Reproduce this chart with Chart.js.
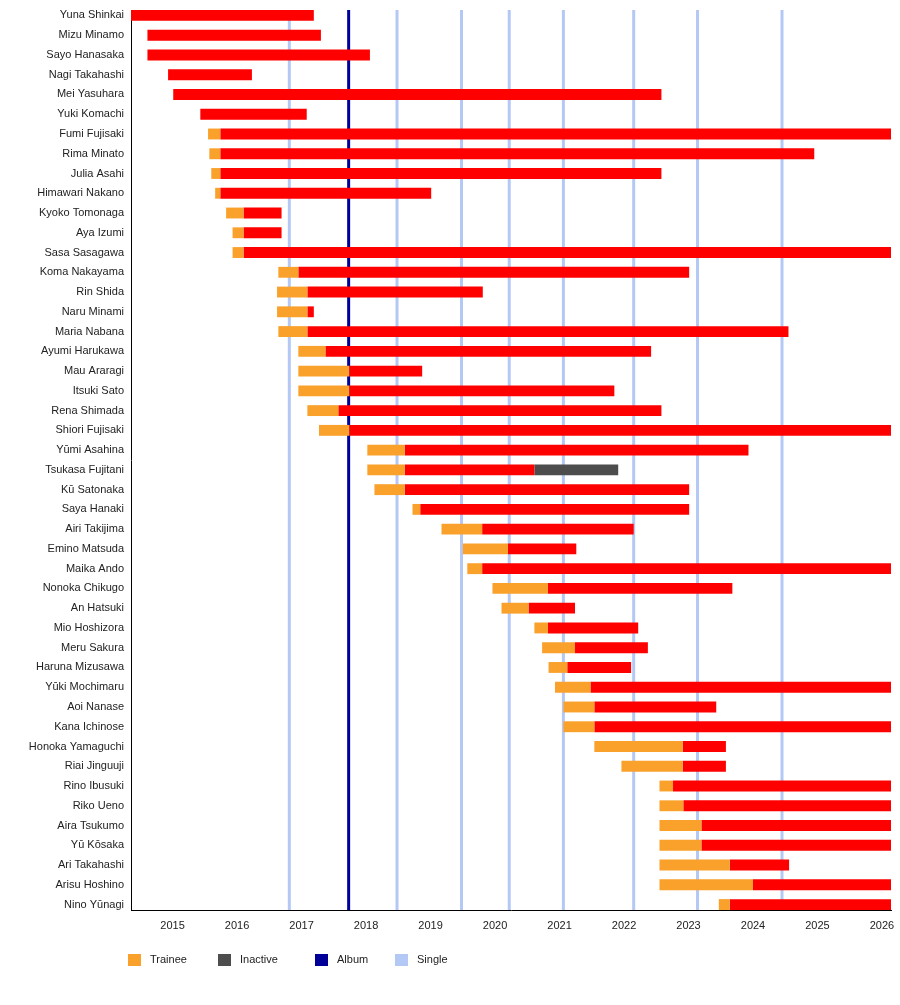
<!DOCTYPE html>
<html><head><meta charset="utf-8">
<script src="https://cdn.jsdelivr.net/npm/chart.js@4.4.1/dist/chart.umd.min.js"></script>
<style>html,body{margin:0;padding:0;background:#fff}#wrap{width:900px;height:1005px;position:relative}</style>
</head><body><div id="wrap"><canvas id="c"></canvas></div>
<script>
const PRESENT = 2026.14;
const P = PRESENT;
const names = ["Yuna Shinkai","Mizu Minamo","Sayo Hanasaka","Nagi Takahashi","Mei Yasuhara","Yuki Komachi","Fumi Fujisaki","Rima Minato","Julia Asahi","Himawari Nakano","Kyoko Tomonaga","Aya Izumi","Sasa Sasagawa","Koma Nakayama","Rin Shida","Naru Minami","Maria Nabana","Ayumi Harukawa","Mau Araragi","Itsuki Sato","Rena Shimada","Shiori Fujisaki","Yūmi Asahina","Tsukasa Fujitani","Kū Satonaka","Saya Hanaki","Airi Takijima","Emino Matsuda","Maika Ando","Nonoka Chikugo","An Hatsuki","Mio Hoshizora","Meru Sakura","Haruna Mizusawa","Yūki Mochimaru","Aoi Nanase","Kana Ichinose","Honoka Yamaguchi","Riai Jinguuji","Rino Ibusuki","Riko Ueno","Aira Tsukumo","Yū Kōsaka","Ari Takahashi","Arisu Hoshino","Nino Yūnagi"];
const traineeStart = [null,null,null,null,null,null,2015.55,2015.57,2015.60,2015.66,2015.83,2015.93,2015.93,2016.64,2016.62,2016.62,2016.64,2016.95,2016.95,2016.95,2017.09,2017.27,2018.02,2018.02,2018.13,2018.72,2019.17,2019.50,2019.57,2019.96,2020.10,2020.61,2020.73,2020.83,2020.93,2021.06,2021.06,2021.54,2021.96,2022.55,2022.55,2022.55,2022.55,2022.55,2022.55,2023.47];
const debut = [2014.3,2014.61,2014.61,2014.93,2015.01,2015.43,2015.74,2015.74,2015.74,2015.74,2016.10,2016.10,2016.10,2016.95,2017.09,2017.09,2017.09,2017.37,2017.74,2017.74,2017.57,2017.74,2018.60,2018.60,2018.60,2018.84,2019.80,2020.20,2019.80,2020.82,2020.52,2020.82,2021.24,2021.12,2021.48,2021.54,2021.54,2022.91,2022.91,2022.76,2022.92,2023.20,2023.20,2023.64,2024.00,2023.64];
const leave = [2017.19,2017.30,2018.06,2016.23,2022.58,2017.08,P,2024.95,2022.58,2019.01,2016.69,2016.69,P,2023.01,2019.81,2017.19,2024.55,2022.42,2018.87,2021.85,2022.58,P,2023.93,2020.61,2023.01,2023.01,2022.15,2021.26,P,2023.68,2021.24,2022.22,2022.37,2022.11,P,2023.43,P,2023.58,2023.58,P,P,P,P,2024.56,P,P];
const inactiveEnd = names.map((n) => n === "Tsukasa Fujitani" ? 2021.91 : null);
const singleDates = [2016.81,2018.48,2019.48,2020.22,2021.06,2022.15,2023.14,2024.45];
const albumDates = [2017.73];
const yearTicks = [2015,2016,2017,2018,2019,2020,2021,2022,2023,2024,2025,2026];
const legendLabels = ["Trainee","Inactive","Album","Single"];

const COLORS = {trainee:'#F9A12B', active:'#FF0000', inactive:'#4D4D4D', album:'#000099', single:'#B4C8F5'};

const traineeData = names.map((n,i)=> traineeStart[i]!=null ? {x:[traineeStart[i], debut[i]], y:i} : null).filter(Boolean);
const activeData = names.map((n,i)=> ({x:[debut[i], leave[i]], y:i}));
const inactiveData = names.map((n,i)=> inactiveEnd[i]!=null ? {x:[leave[i], inactiveEnd[i]], y:i} : null).filter(Boolean);

const linesPlugin = {
  id:'releaseLines',
  beforeDatasetsDraw(chart){
    const {ctx, chartArea:a, scales:{x}} = chart;
    ctx.save();
    ctx.lineWidth = 3;
    ctx.strokeStyle = COLORS.single;
    singleDates.forEach(d=>{const px=x.getPixelForValue(d);ctx.beginPath();ctx.moveTo(px,a.top);ctx.lineTo(px,a.bottom);ctx.stroke();});
    ctx.strokeStyle = COLORS.album;
    albumDates.forEach(d=>{const px=x.getPixelForValue(d);ctx.beginPath();ctx.moveTo(px,a.top);ctx.lineTo(px,a.bottom);ctx.stroke();});
    ctx.restore();
  }
};

const legendPlugin = {
  id:'customLegend',
  afterDraw(chart){
    const ctx = chart.ctx;
    const cols = [COLORS.trainee, COLORS.inactive, COLORS.album, COLORS.single];
    const xs = [128, 218, 315, 395];
    const y = 960;
    ctx.save();
    ctx.font = '11px "Liberation Sans", Arial, sans-serif';
    ctx.textBaseline = 'middle';
    ctx.textAlign = 'left';
    legendLabels.forEach((t,i)=>{
      ctx.fillStyle = cols[i];
      ctx.fillRect(xs[i], y-6, 13, 12);
      ctx.fillStyle = '#222';
      ctx.fillText(t, xs[i]+22, y);
    });
    ctx.restore();
  }
};

Chart.defaults.font.family = '"Liberation Sans", Arial, sans-serif';
Chart.defaults.font.size = 11;
Chart.defaults.color = '#222';

new Chart(document.getElementById('c'), {
  type:'bar',
  data:{datasets:[
    {label:'Trainee', data:traineeData, backgroundColor:COLORS.trainee, grouped:false},
    {label:'Active', data:activeData, backgroundColor:COLORS.active, grouped:false},
    {label:'Inactive', data:inactiveData, backgroundColor:COLORS.inactive, grouped:false}
  ]},
  options:{
    indexAxis:'y',
    responsive:true,
    maintainAspectRatio:false,
    animation:false,
    barPercentage:0.55,
    categoryPercentage:1,
    layout:{padding:{top:10,right:9,bottom:65,left:0}},
    plugins:{legend:{display:false}, tooltip:{enabled:false}},
    scales:{
      x:{type:'linear', position:'bottom', min:2014.355, max:PRESENT, offset:false,
        grid:{display:false, drawTicks:false, offset:false},
        border:{display:true,color:'#000',width:1},
        ticks:{padding:9, color:'#222', callback:(v)=>String(v)},
        afterBuildTicks:(s)=>{s.ticks = yearTicks.map(v=>({value:v}));},
        afterFit:(s)=>{s.height = 30; s.paddingLeft = 0; s.paddingRight = 0;}
      },
      y:{type:'linear', reverse:true, min:-0.275, max:names.length-1+0.275, offset:false,
        grid:{display:false, drawTicks:false, offset:false},
        border:{display:true,color:'#000',width:1},
        ticks:{autoSkip:false, padding:7, color:'#222', callback:(v)=>names[v]},
        afterBuildTicks:(s)=>{s.ticks = names.map((n,i)=>({value:i}));},
        afterFit:(s)=>{s.width = 131; s.paddingTop = 0; s.paddingBottom = 0;}
      }
    }
  },
  plugins:[linesPlugin, legendPlugin]
});
</script>
</body></html>
